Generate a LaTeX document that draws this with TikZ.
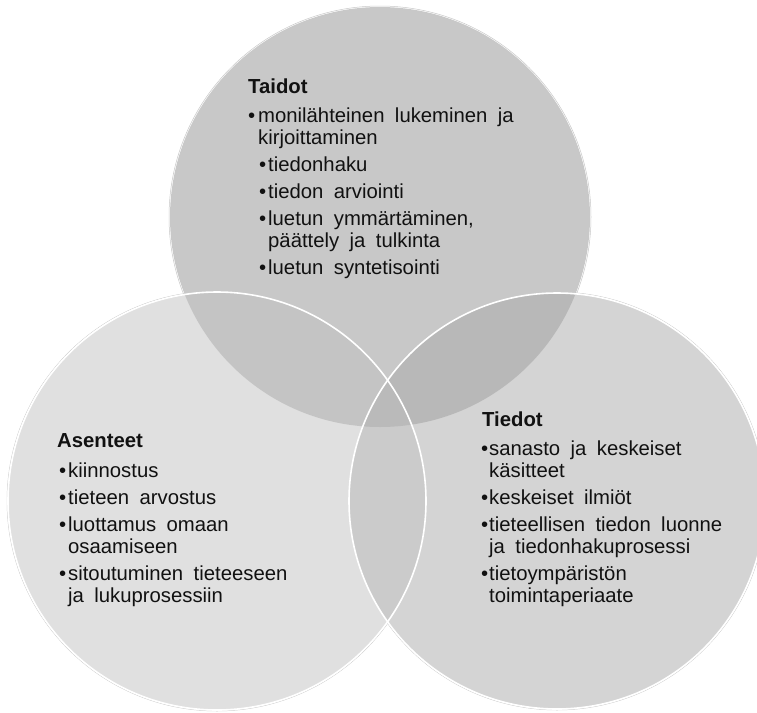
\documentclass[tikz,border=0pt]{standalone}
\usepackage{fontspec}
\setmainfont{Liberation Sans}[WordSpace=1.85]
\definecolor{ctop}{HTML}{C8C8C8}
\definecolor{cleft}{HTML}{E0E0E0}
\definecolor{cright}{HTML}{D4D4D4}
\definecolor{ctl}{HTML}{C4C4C4}
\definecolor{ctr}{HTML}{B8B8B8}
\definecolor{clr}{HTML}{CBCBCB}
\definecolor{call}{HTML}{BABABA}
\definecolor{cring}{HTML}{C8C8C8}
\definecolor{ctext}{HTML}{111111}
\newcommand\vbul{\makebox[9pt][l]{•}}
\begin{document}
\begin{tikzpicture}[x=1pt,y=-1pt,
  txt/.style={anchor=base west,inner sep=0pt,text=ctext,font=\fontsize{20.3}{24}\selectfont},
  head/.style={anchor=base west,inner sep=0pt,text=ctext,font=\fontsize{20.3}{24}\selectfont\bfseries},
  edge/.style={draw=white,line width=1.6pt},
  ring/.style={draw=cring,line width=0.5pt}]
\useasboundingbox (0,0) rectangle (757,712);
\fill[white] (0,0) rectangle (757,712);
\coordinate (T) at (380,217);
\coordinate (L) at (217,501);
\coordinate (R) at (557,501);
\begin{scope}
\clip (0,0) rectangle (757,712);
% faint outer rings
\draw[ring] (T) circle[radius=211pt];
\draw[ring] (L) circle[radius=210pt];
\draw[ring] (R) circle[radius=209pt];
% base fills
\fill[ctop] (T) circle[radius=210pt];
\fill[cleft] (L) circle[radius=209pt];
\fill[cright] (R) circle[radius=208pt];
% overlaps
\begin{scope}
  \clip (T) circle[radius=210pt];
  \fill[ctl] (L) circle[radius=209pt];
  \fill[ctr] (R) circle[radius=208pt];
\end{scope}
\begin{scope}
  \clip (L) circle[radius=209pt];
  \fill[clr] (R) circle[radius=208pt];
\end{scope}
\begin{scope}
  \clip (T) circle[radius=210pt];
  \clip (L) circle[radius=209pt];
  \fill[call] (R) circle[radius=208pt];
\end{scope}
% white edges
\draw[edge] (L) circle[radius=209pt];
\draw[edge] (R) circle[radius=208pt];
\end{scope}

% Taidot
\node[head] (ta0) at (248,93) {Taidot};
\node[txt] (ta1) at (248,122) {\makebox[10pt][l]{•}monilähteinen lukeminen ja};
\node[txt] (ta1b) at (258,144) {kirjoittaminen};
\node[txt] (ta2) at (259,171) {\vbul tiedonhaku};
\node[txt] (ta3) at (259,198) {\vbul tiedon arviointi};
\node[txt] (ta4) at (259,225) {\vbul luetun ymmärtäminen,};
\node[txt] (ta4b) at (268,247) {päättely ja tulkinta};
\node[txt] (ta5) at (259,274) {\vbul luetun syntetisointi};

% Asenteet
\node[head] (as0) at (57,447) {Asenteet};
\node[txt] (as1) at (59,477) {\vbul kiinnostus};
\node[txt] (as2) at (59,504) {\vbul tieteen arvostus};
\node[txt] (as3) at (59,531) {\vbul luottamus omaan};
\node[txt] (as3b) at (68,553) {osaamiseen};
\node[txt] (as4) at (59,580) {\vbul sitoutuminen tieteeseen};
\node[txt] (as4b) at (68,602) {ja lukuprosessiin};

% Tiedot
\node[head] (ti0) at (482,426) {Tiedot};
\node[txt] (ti1) at (481,455) {\makebox[8pt][l]{•}sanasto ja keskeiset};
\node[txt] (ti1b) at (489,477) {käsitteet};
\node[txt] (ti2) at (481,504) {\makebox[8pt][l]{•}keskeiset ilmiöt};
\node[txt] (ti3) at (481,531) {\makebox[8pt][l]{•}tieteellisen tiedon luonne};
\node[txt] (ti3b) at (489,553) {ja tiedonhakuprosessi};
\node[txt] (ti4) at (481,580) {\makebox[8pt][l]{•}tietoympäristön};
\node[txt] (ti4b) at (489,602) {toimintaperiaate};
\end{tikzpicture}
\end{document}
